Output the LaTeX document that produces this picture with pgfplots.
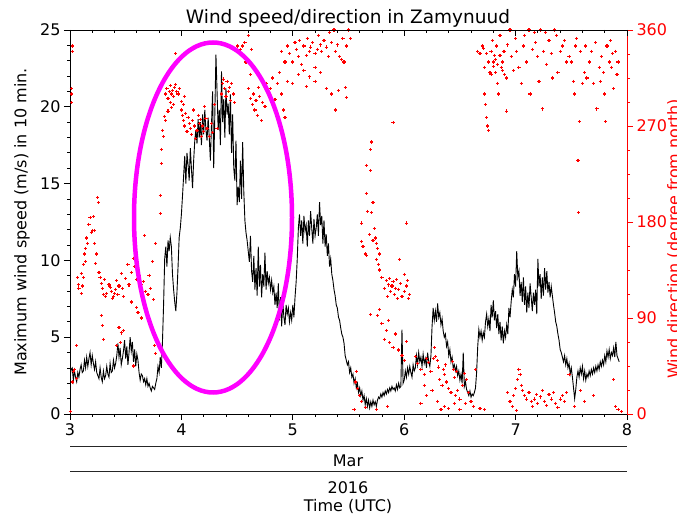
\documentclass[border=0pt]{standalone}
\usepackage{fontspec}
\setmainfont{DejaVu Sans}
\usepackage{pgfplots}
\pgfplotsset{compat=1.18}
\definecolor{pureRed}{RGB}{255,0,0}
\definecolor{pureMagenta}{RGB}{255,0,255}
\pgfplotstableread{
t v
3.00 2.4
3.01 2.9
3.02 3.0
3.03 2.2
3.04 2.8
3.05 2.4
3.06 2.1
3.07 2.7
3.08 2.4
3.09 2.9
3.10 3.2
3.11 2.7
3.12 2.8
3.13 3.5
3.14 3.0
3.15 3.7
3.16 3.1
3.17 3.6
3.18 4.0
3.19 3.2
3.20 3.8
3.21 3.3
3.22 2.9
3.23 3.4
3.24 2.7
3.25 2.5
3.26 2.3
3.27 3.0
3.28 2.4
3.29 2.1
3.30 2.8
3.31 2.3
3.32 2.5
3.33 3.1
3.34 2.6
3.35 2.4
3.36 3.3
3.37 2.7
3.38 2.8
3.39 3.5
3.40 3.0
3.41 3.3
3.42 3.8
3.43 4.6
3.44 3.7
3.45 4.3
3.46 3.2
3.47 3.6
3.48 4.1
3.49 4.8
3.50 3.6
3.51 4.4
3.52 3.2
3.53 4.0
3.54 5.0
3.55 4.1
3.56 4.7
3.57 3.4
3.58 4.2
3.59 3.1
3.60 3.9
3.61 3.5
3.62 2.7
3.63 2.2
3.64 2.6
3.65 2.5
3.66 2.1
3.67 2.3
3.68 1.9
3.69 2.3
3.70 1.8
3.71 2.0
3.72 1.7
3.73 1.5
3.74 1.8
3.75 1.7
3.76 1.6
3.77 2.0
3.78 2.3
3.79 3.1
3.80 2.7
3.81 3.7
3.82 3.0
3.83 4.7
3.84 7.1
3.85 10.1
3.86 10.9
3.87 9.6
3.88 11.3
3.89 10.6
3.90 11.5
3.91 10.9
3.92 9.1
3.93 8.1
3.94 7.3
3.95 6.7
3.96 7.9
3.97 9.6
3.98 11.5
3.99 12.1
4.00 13.0
4.01 14.2
4.02 15.5
4.03 16.8
4.04 15.0
4.05 17.0
4.06 16.2
4.07 15.2
4.08 17.3
4.09 16.0
4.10 14.7
4.11 16.5
4.12 17.8
4.13 18.5
4.14 17.6
4.15 19.2
4.16 18.0
4.17 19.0
4.18 17.5
4.19 19.5
4.20 18.2
4.21 19.8
4.22 18.5
4.23 17.8
4.24 19.3
4.25 18.0
4.26 16.5
4.27 18.8
4.28 21.0
4.29 16.0
4.30 19.5
4.31 23.4
4.32 21.0
4.33 18.5
4.34 19.8
4.35 17.5
4.36 22.3
4.37 19.0
4.38 20.5
4.39 18.0
4.40 21.2
4.41 19.5
4.42 20.2
4.43 18.2
4.44 20.8
4.45 17.0
4.46 19.5
4.47 16.0
4.48 15.2
4.49 17.8
4.50 13.6
4.51 14.8
4.52 13.8
4.53 16.5
4.54 14.0
4.55 17.7
4.56 14.5
4.57 12.6
4.58 11.8
4.59 11.3
4.60 10.6
4.61 9.9
4.62 11.6
4.63 9.3
4.64 8.6
4.65 10.3
4.66 8.1
4.67 9.5
4.68 7.7
4.69 10.9
4.70 8.3
4.71 9.7
4.72 7.6
4.73 9.1
4.74 8.3
4.75 10.5
4.76 8.1
4.77 9.3
4.78 8.5
4.79 8.9
4.80 8.1
4.81 8.7
4.82 7.9
4.83 8.3
4.84 7.1
4.85 7.9
4.86 6.9
4.87 8.5
4.88 6.1
4.89 7.6
4.90 5.7
4.91 7.3
4.92 6.3
4.93 5.8
4.94 7.1
4.95 6.5
4.96 6.9
4.97 6.0
4.98 6.6
4.99 6.1
5.00 7.1
5.01 6.3
5.02 7.6
5.03 8.6
5.04 10.1
5.05 12.1
5.06 13.0
5.07 11.6
5.08 12.6
5.09 11.1
5.10 12.9
5.11 11.9
5.12 12.3
5.13 10.9
5.14 12.6
5.15 11.6
5.16 13.2
5.17 12.1
5.18 11.1
5.19 12.7
5.20 11.6
5.21 12.1
5.22 13.0
5.23 11.6
5.24 13.8
5.25 12.3
5.26 12.9
5.27 11.1
5.28 12.6
5.29 10.9
5.30 11.7
5.31 10.3
5.32 11.1
5.33 9.6
5.34 10.1
5.35 9.1
5.36 8.7
5.37 8.1
5.38 7.7
5.39 7.1
5.40 6.9
5.41 6.3
5.42 6.1
5.43 5.6
5.44 5.2
5.45 5.0
5.46 4.6
5.47 3.8
5.48 3.5
5.49 3.2
5.50 3.4
5.51 2.7
5.52 3.0
5.53 2.4
5.54 2.6
5.55 2.0
5.56 2.3
5.57 1.7
5.58 2.0
5.59 1.4
5.60 1.7
5.61 1.2
5.62 1.5
5.63 0.9
5.64 1.2
5.65 0.6
5.66 1.0
5.67 0.5
5.68 0.9
5.69 0.4
5.70 0.8
5.71 0.5
5.72 0.9
5.73 0.6
5.74 0.8
5.75 0.5
5.76 0.9
5.77 1.1
5.78 1.0
5.79 1.3
5.80 1.1
5.81 1.4
5.82 1.2
5.83 1.5
5.84 1.3
5.85 1.6
5.86 1.4
5.87 1.7
5.88 1.5
5.89 1.8
5.90 1.6
5.91 1.7
5.92 1.5
5.93 1.9
5.94 1.6
5.95 2.0
5.96 1.7
5.97 1.8
5.98 5.5
5.99 2.0
6.00 2.2
6.01 2.8
6.02 2.4
6.03 3.0
6.04 2.6
6.05 3.1
6.06 2.7
6.07 2.4
6.08 3.2
6.09 2.8
6.10 3.0
6.11 3.8
6.12 3.2
6.13 4.0
6.14 3.4
6.15 3.7
6.16 3.1
6.17 3.9
6.18 3.3
6.19 3.6
6.20 3.0
6.21 4.0
6.22 3.4
6.23 3.1
6.24 3.8
6.25 5.7
6.26 6.9
6.27 6.1
6.28 6.7
6.29 6.0
6.30 7.2
6.31 6.3
6.32 6.6
6.33 5.8
6.34 6.2
6.35 5.4
6.36 5.0
6.37 5.2
6.38 4.4
6.39 4.7
6.40 3.8
6.41 4.2
6.42 3.4
6.43 3.7
6.44 3.0
6.45 3.2
6.46 2.8
6.47 3.1
6.48 2.5
6.49 2.8
6.50 2.2
6.51 2.6
6.52 2.0
6.53 4.0
6.54 1.8
6.55 2.1
6.56 1.6
6.57 1.4
6.58 1.2
6.59 1.5
6.60 1.1
6.61 1.3
6.62 1.2
6.63 1.4
6.64 1.7
6.65 2.7
6.66 4.4
6.67 5.5
6.68 5.0
6.69 5.4
6.70 4.8
6.71 5.3
6.72 5.0
6.73 6.0
6.74 6.5
6.75 5.7
6.76 6.2
6.77 5.4
6.78 7.1
6.79 6.3
6.80 7.4
6.81 6.1
6.82 6.7
6.83 5.6
6.84 6.5
6.85 5.2
6.86 6.0
6.87 4.8
6.88 5.7
6.89 4.6
6.90 5.4
6.91 5.0
6.92 5.8
6.93 5.2
6.94 6.9
6.95 6.3
6.96 7.3
6.97 8.1
6.98 7.6
6.99 9.1
7.00 8.3
7.01 10.6
7.02 8.9
7.03 9.3
7.04 7.7
7.05 8.6
7.06 7.3
7.07 8.9
7.08 7.1
7.09 8.3
7.10 6.6
7.11 7.9
7.12 6.9
7.13 8.5
7.14 7.6
7.15 6.7
7.16 7.9
7.17 7.1
7.18 8.1
7.19 6.5
7.20 10.1
7.21 8.3
7.22 9.1
7.23 7.5
7.24 8.9
7.25 7.7
7.26 9.5
7.27 8.1
7.28 9.3
7.29 7.9
7.30 8.6
7.31 7.6
7.32 8.3
7.33 7.7
7.34 7.1
7.35 6.6
7.36 6.0
7.37 5.7
7.38 5.2
7.39 4.8
7.40 4.2
7.41 4.0
7.42 3.7
7.43 3.4
7.44 3.8
7.45 3.2
7.46 3.6
7.47 3.0
7.48 3.3
7.49 2.6
7.50 3.0
7.51 2.4
7.52 1.7
7.53 1.0
7.54 1.6
7.55 2.4
7.56 2.8
7.57 2.4
7.58 3.0
7.59 2.6
7.60 3.1
7.61 2.3
7.62 2.8
7.63 2.2
7.64 2.6
7.65 2.4
7.66 2.8
7.67 2.5
7.68 2.9
7.69 2.6
7.70 3.0
7.71 2.7
7.72 3.1
7.73 2.8
7.74 3.2
7.75 2.9
7.76 3.4
7.77 3.1
7.78 3.5
7.79 3.2
7.80 3.8
7.81 3.4
7.82 4.1
7.83 3.7
7.84 4.2
7.85 3.6
7.86 4.0
7.87 3.8
7.88 4.3
7.89 3.7
7.90 4.7
7.91 3.8
7.92 3.6
7.93 3.4
}\speed
\pgfplotstableread{
t d
3.005 2
3.02 340
3.025 345
3.01 305
3.012 300
3.015 292
3.03 40
3.04 42
3.06 64
3.02 30
3.06 33
3.07 128
3.075 121
3.08 118
3.10 113
3.11 120
3.10 132
3.12 128
3.12 140
3.13 150
3.14 155
3.14 143
3.15 165
3.16 160
3.17 178
3.18 184
3.19 170
3.20 172
3.21 185
3.22 172
3.22 160
3.23 141
3.24 150
3.25 203
3.255 198
3.26 133
3.27 128
3.28 122
3.29 118
3.30 112
3.31 126
3.32 110
3.33 113
3.35 121
3.36 119
3.37 115
3.38 108
3.39 110
3.40 113
3.41 117
3.42 125
3.43 112
3.44 120
3.46 132
3.47 118
3.48 110
3.50 127
3.52 140
3.53 121
3.28 92
3.29 83
3.30 70
3.42 64
3.44 81
3.46 76
3.48 78
3.45 67
3.55 133
3.57 146
3.58 138
3.60 126
3.62 130
3.64 121
3.66 124
3.67 167
3.68 115
3.70 112
3.71 130
3.72 118
3.74 143
3.75 107
3.77 160
3.76 64
3.77 57
3.57 45
3.55 105
3.60 100
3.61 95
3.64 90
3.81 188
3.81 205
3.82 235
3.82 248
3.83 266
3.84 260
3.85 279
3.86 275
3.86 300
3.87 305
3.88 296
3.89 302
3.90 308
3.91 300
3.92 303
3.93 298
3.94 306
3.95 309
3.96 302
3.97 300
3.98 305
3.90 292
3.93 290
3.95 338
3.88 284
3.91 287
4.00 285
4.01 280
4.02 275
4.03 270
4.04 282
4.05 265
4.06 278
4.07 272
4.08 268
4.09 262
4.10 275
4.11 285
4.12 270
4.13 258
4.14 266
4.15 280
4.16 272
4.17 276
4.18 260
4.19 270
4.20 265
4.21 288
4.22 277
4.23 268
4.25 260
4.27 272
4.28 264
4.30 290
4.32 268
4.00 293
4.03 298
4.02 290
4.36 300
4.37 310
4.38 314
4.39 305
4.40 298
4.41 312
4.42 302
4.43 306
4.44 294
4.45 310
4.47 300
4.48 292
4.50 345
4.52 340
4.53 342
4.54 338
4.55 345
4.57 348
4.58 330
4.60 355
4.62 318
4.63 342
4.60 305
4.62 296
4.64 290
4.65 300
4.66 285
4.67 294
4.68 280
4.69 306
4.70 298
4.72 275
4.73 292
4.75 288
4.76 310
4.78 300
4.80 305
4.82 315
4.84 295
4.86 310
4.88 320
4.90 300
4.92 285
4.93 278
4.95 312
4.90 340
4.93 330
4.95 345
4.97 338
5.00 330
5.02 348
5.03 342
5.05 335
5.06 350
5.08 328
5.10 345
5.12 336
5.13 352
5.15 340
5.16 344
5.18 348
5.20 338
5.22 342
5.23 355
5.25 346
5.26 340
5.28 350
5.30 344
5.32 335
5.33 358
5.35 348
5.37 360
5.38 340
5.40 346
5.42 335
5.44 332
5.45 352
5.46 330
5.48 345
5.50 360
5.52 352
5.00 310
5.05 318
5.10 322
5.15 316
5.20 312
5.25 320
5.30 305
5.35 300
5.38 285
5.41 303
5.47 306
5.48 297
5.12 307
5.20 325
5.71 255
5.70 248
5.66 233
5.70 228
5.66 207
5.72 198
5.67 190
5.71 189
5.62 179
5.73 174
5.74 165
5.75 160
5.76 155
5.78 150
5.62 162
5.63 157
5.65 150
5.66 149
5.75 145
5.77 140
5.78 135
5.80 128
5.72 163
5.69 168
5.82 118
5.84 125
5.85 110
5.86 121
5.87 127
5.88 115
5.89 120
5.90 124
5.91 112
5.92 118
5.93 126
5.94 108
5.95 117
5.97 122
5.98 110
6.00 115
6.02 120
6.04 108
6.05 112
5.96 145
6.00 131
6.03 125
6.02 179
5.90 273
5.76 92
5.78 98
5.80 85
5.82 70
5.84 78
5.86 88
5.87 67
5.90 62
5.92 75
5.95 60
5.98 55
6.00 50
6.02 68
5.70 93
5.55 4
5.57 40
5.56 30
5.58 24
5.60 17
5.62 12
5.65 6
5.75 4
5.85 7
6.10 54
6.12 47
6.15 42
6.18 37
6.20 52
6.22 48
6.24 40
6.26 52
6.28 54
6.30 50
6.32 32
6.34 27
6.35 42
6.36 37
6.38 30
6.40 24
6.42 20
6.44 42
6.45 34
6.46 17
6.48 22
6.50 14
6.52 27
6.54 38
6.56 32
6.58 20
6.60 12
6.62 7
6.30 12
6.33 4
6.36 7
6.40 5
6.45 10
6.50 4
6.25 22
6.20 17
6.15 10
6.18 27
6.64 42
6.55 10
6.68 5
6.72 4
6.27 62
6.31 44
6.37 46
6.43 49
6.47 40
6.66 340
6.68 338
6.70 345
6.72 325
6.72 300
6.73 290
6.74 278
6.75 270
6.76 266
6.77 320
6.78 340
6.79 350
6.80 330
6.81 336
6.82 320
6.83 345
6.84 310
6.85 300
6.86 355
6.87 325
6.88 330
6.89 340
6.90 318
6.92 284
6.93 346
6.95 360
6.96 335
6.98 322
7.00 352
7.01 340
7.03 325
7.05 310
7.07 345
7.08 355
7.10 330
7.12 360
7.13 300
7.15 342
7.17 358
7.18 348
7.20 335
7.21 312
7.22 360
7.24 286
7.25 340
7.27 358
7.28 328
7.30 350
7.32 338
7.33 315
7.35 360
7.37 355
7.38 320
7.40 340
7.42 345
7.44 350
7.46 330
7.48 335
6.71 343
6.74 338
6.76 330
6.78 318
6.80 326
6.82 332
6.84 328
6.86 336
6.88 322
6.90 340
6.92 315
7.50 330
7.52 312
7.53 300
7.54 345
7.55 352
7.56 238
7.565 189
7.57 274
7.58 340
7.60 310
7.62 320
7.63 345
7.64 315
7.66 330
7.68 340
7.70 310
7.72 348
7.73 286
7.75 325
7.76 312
7.77 335
7.79 320
7.80 300
7.81 274
7.82 345
7.84 330
7.85 350
7.86 325
7.87 338
7.88 305
7.90 340
7.91 318
7.92 330
6.93 20
6.95 12
6.97 7
6.98 17
7.00 24
7.01 3
7.02 32
7.03 42
7.04 37
7.05 27
7.06 22
7.08 17
7.10 14
7.12 20
7.14 12
7.15 7
7.17 14
7.19 18
7.20 10
7.22 16
7.24 22
7.26 12
7.28 8
7.30 18
7.32 14
7.34 20
7.36 10
7.38 6
7.40 14
7.42 17
7.44 12
7.46 20
7.48 37
7.53 7
7.58 22
7.62 12
7.70 17
7.88 32
7.92 4
7.95 2
7.90 7
}\direction
\begin{document}
\begin{tikzpicture}
\useasboundingbox (0,0) rectangle (677pt,516pt);
\pgfplotsset{every axis/.append style={
  width=557pt, height=384pt, scale only axis,
  at={(70pt,102pt)}, anchor=south west,
  xmin=3, xmax=8,
  major tick length=6pt, minor tick length=3pt,
  axis line style={line width=0.9pt},
  /pgf/number format/assume math mode=true,
  ticklabel style={font=\fontsize{16}{18}\selectfont},
}}
% speed axis
\begin{axis}[
  ymin=0, ymax=25,
  axis x line*=bottom, axis y line*=left,
  tick align=outside,
  xtick={3,4,5,6,7,8}, minor x tick num=4,
  ytick={0,5,10,15,20,25}, minor y tick num=4,
  tick style={black, line width=0.8pt},
]
\addplot[black, line width=0.9pt] table[x=t, y=v] {\speed};
\end{axis}
% direction axis
\begin{axis}[
  ymin=0, ymax=360,
  axis x line=none, axis y line*=right,
  tick align=outside,
  ytick={0,90,180,270,360}, minor y tick num=3,
  axis line style={pureRed, line width=0.9pt},
  tick style={pureRed, line width=0.8pt},
  yticklabel style={text=pureRed},
]
\addplot[draw=pureRed, only marks, mark=+, mark size=1.6pt, line width=1.1pt] table[x=t, y=d] {\direction};
\end{axis}
% top axis
\begin{axis}[
  ymin=0, ymax=25,
  axis y line=none, axis x line*=top,
  tick align=inside,
  xtick={3,4,5,6,7,8}, minor x tick num=4, xticklabels={},
  tick style={black, line width=0.8pt},
]
\end{axis}
\draw[pureMagenta, line width=4.5pt] (213pt,298.5pt) ellipse [x radius=79pt, y radius=175pt];
\node[anchor=base, font=\fontsize{18.5}{20}\selectfont] at (348pt,492pt) {Wind speed/direction in Zamynuud};
\node[rotate=90, font=\fontsize{16}{18}\selectfont] at (22pt,294pt) {Maximum wind speed (m/s) in 10 min.};
\node[rotate=90, text=pureRed, font=\fontsize{16}{18}\selectfont] at (675pt,277pt) {Wind direction (degree from north)};
\draw[black!85, line width=1pt] (70pt,69pt) -- (627pt,69pt);
\draw[black!85, line width=1pt] (70pt,44pt) -- (627pt,44pt);
\node[font=\fontsize{16}{18}\selectfont] at (348pt,55pt) {Mar};
\node[font=\fontsize{16}{18}\selectfont] at (348pt,28pt) {2016};
\node[font=\fontsize{16}{18}\selectfont] at (348pt,10pt) {Time (UTC)};
\end{tikzpicture}
\end{document}
